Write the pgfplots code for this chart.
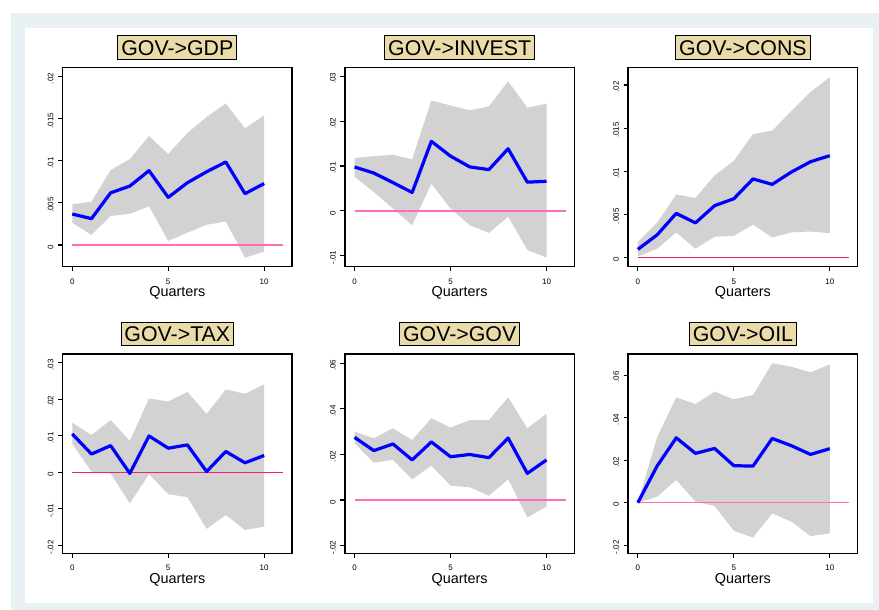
\documentclass[border=0pt]{standalone}
\usepackage{pgfplots}
\pgfplotsset{compat=1.18}
\usepackage{pgfplotstable}
\usepackage{fontspec}
\setmainfont{Liberation Sans}

\definecolor{bandgrey}{RGB}{210,210,210}
\definecolor{titletan}{RGB}{233,219,170}
\definecolor{framebg}{RGB}{233,241,244}
\definecolor{zpink}{RGB}{255,110,180}
\definecolor{zmag}{RGB}{240,30,125}

\pgfplotstableread{
x est lo hi
0 0.00368 0.00265 0.00483
1 0.00313 0.00120 0.00515
2 0.00620 0.00345 0.00890
3 0.00700 0.00370 0.01020
4 0.00883 0.00460 0.01295
5 0.00566 0.00050 0.01080
6 0.00740 0.00147 0.01330
7 0.00870 0.00240 0.01520
8 0.00986 0.00280 0.01680
9 0.00610 -0.00150 0.01386
10 0.00730 -0.00080 0.01540
}\gdp
\pgfplotstableread{
x est lo hi
0 0.00978 0.0076 0.0118
1 0.00844 0.0042 0.0122
2 0.0063 0.0005 0.0125
3 0.0041 -0.0032 0.0115
4 0.0155 0.0061 0.0246
5 0.0122 0.0005 0.0235
6 0.0098 -0.0032 0.0224
7 0.0092 -0.0049 0.0233
8 0.01385 -0.0013 0.0289
9 0.0064 -0.0087 0.0230
10 0.0066 -0.0104 0.0239
}\invest
\pgfplotstableread{
x est lo hi
0 0.00093 0.0001 0.0018
1 0.0026 0.0010 0.0040
2 0.0051 0.0029 0.0073
3 0.0040 0.0010 0.0069
4 0.0060 0.0024 0.0095
5 0.0068 0.0025 0.0112
6 0.0091 0.0038 0.0143
7 0.00847 0.0023 0.0147
8 0.0099 0.0029 0.0170
9 0.0111 0.0030 0.0192
10 0.0118 0.0028 0.0209
}\cons
\pgfplotstableread{
x est lo hi
0 0.0105 0.0078 0.0136
1 0.0050 0.0002 0.0102
2 0.0073 -0.0003 0.0143
3 -0.0003 -0.0085 0.0086
4 0.00995 -0.0005 0.0202
5 0.0066 -0.0060 0.0194
6 0.0075 -0.0068 0.0220
7 0.0002 -0.0155 0.0160
8 0.0057 -0.0117 0.0227
9 0.0026 -0.0158 0.0215
10 0.0046 -0.0149 0.0241
}\tax
\pgfplotstableread{
x est lo hi
0 0.0275 0.0249 0.0300
1 0.0217 0.0164 0.0271
2 0.0246 0.0176 0.0315
3 0.0176 0.0091 0.0263
4 0.0255 0.0151 0.0359
5 0.0190 0.0063 0.0318
6 0.0200 0.0056 0.0351
7 0.0186 0.0019 0.0351
8 0.0272 0.0091 0.0451
9 0.0117 -0.0076 0.0315
10 0.0176 -0.0029 0.0378
}\gov
\pgfplotstableread{
x est lo hi
0 0 0 0
1 0.0172 0.0028 0.0307
2 0.0305 0.0107 0.0495
3 0.0232 0.0005 0.0464
4 0.0255 -0.0016 0.0522
5 0.0174 -0.0132 0.0486
6 0.0172 -0.0164 0.0506
7 0.0302 -0.0050 0.0655
8 0.0268 -0.0089 0.0639
9 0.0227 -0.0157 0.0613
10 0.0254 -0.0144 0.0650
}\oil

\pgfplotsset{
  irf/.style={
    anchor=north west, scale only axis, width=172pt, height=149.5pt,
    xmin=-0.5, xmax=11.45,
    scaled y ticks=false, scaled x ticks=false,
    axis on top,
    axis line style={line width=1.2pt, black},
    tick style={line width=0.8pt, black},
    tick align=outside, tick pos=left, major tick length=3.4pt,
    xtick={0,5,10}, xticklabels={0,5,10},
    xticklabel style={font=\fontsize{6}{7}\selectfont, yshift=-2pt},
    yticklabel style={font=\fontsize{6}{7}\selectfont, rotate=90, anchor=south, xshift=-1.5pt},
    xlabel={Quarters},
    xlabel style={at={(0.5,0)}, anchor=north, inner sep=0pt, yshift=-15pt, font=\fontsize{10.8}{12}\selectfont},
    title style={at={(0.5,1)}, anchor=south, yshift=0pt, fill=titletan, draw=black, line width=0.6pt, font=\fontsize{16}{18}\selectfont, inner xsep=2.6pt, inner ysep=2.9pt, text height=11.5pt, text depth=0pt},
  },
}

\newcommand{\irfplots}[2]{%
  \addplot[draw=none, stack plots=y, forget plot] table[x=x,y=lo]{#1};
  \addplot[fill=bandgrey, draw=none, stack plots=y, forget plot] table[x=x,y expr=\thisrow{hi}-\thisrow{lo}]{#1} \closedcycle;
  \addplot[#2, stack plots=false] coordinates {(0,0) (11,0)};
  \addplot[blue, line width=2.4pt, line join=round, stack plots=false] table[x=x,y=est]{#1};
}

\begin{document}
\begin{tikzpicture}
\fill[white] (0pt,0pt) rectangle (659.25pt,-457.5pt);
\fill[framebg] (8.25pt,-9.75pt) rectangle (659.25pt,-457.5pt);
\fill[white] (18.75pt,-21pt) rectangle (654.5pt,-452pt);

\begin{axis}[irf, at={(47pt,-50.5pt)}, title={GOV->GDP},
  ymin=-0.00257, ymax=0.0211,
  ytick={0,0.005,0.01,0.015,0.02}, yticklabels={0,.005,.01,.015,.02}]
\irfplots{\gdp}{zpink, line width=1.1pt}
\end{axis}

\begin{axis}[irf, at={(258.75pt,-50.5pt)}, title={GOV->INVEST},
  ymin=-0.01244, ymax=0.032,
  ytick={-0.01,0,0.01,0.02,0.03}, yticklabels={-.01,0,.01,.02,.03}]
\irfplots{\invest}{zpink, line width=1.1pt}
\end{axis}

\begin{axis}[irf, at={(471.2pt,-50.5pt)}, title={GOV->CONS},
  ymin=-0.00108, ymax=0.02205,
  ytick={0,0.005,0.01,0.015,0.02}, yticklabels={0,.005,.01,.015,.02}]
\irfplots{\cons}{zmag, line width=0.9pt}
\end{axis}

\begin{axis}[irf, at={(47pt,-265.5pt)}, title={GOV->TAX},
  ymin=-0.0222, ymax=0.0324,
  ytick={-0.02,-0.01,0,0.01,0.02,0.03}, yticklabels={-.02,-.01,0,.01,.02,.03}]
\irfplots{\tax}{zmag, line width=0.9pt}
\end{axis}

\begin{axis}[irf, at={(258.75pt,-265.5pt)}, title={GOV->GOV},
  ymin=-0.0234, ymax=0.0641,
  ytick={-0.02,0,0.02,0.04,0.06}, yticklabels={-.02,0,.02,.04,.06}]
\irfplots{\gov}{zpink, line width=1.1pt}
\end{axis}

\begin{axis}[irf, at={(471.2pt,-265.5pt)}, title={GOV->OIL},
  ymin=-0.0238, ymax=0.0699,
  ytick={-0.02,0,0.02,0.04,0.06}, yticklabels={-.02,0,.02,.04,.06}]
\irfplots{\oil}{zpink, line width=1.1pt}
\end{axis}
\end{tikzpicture}
\end{document}
